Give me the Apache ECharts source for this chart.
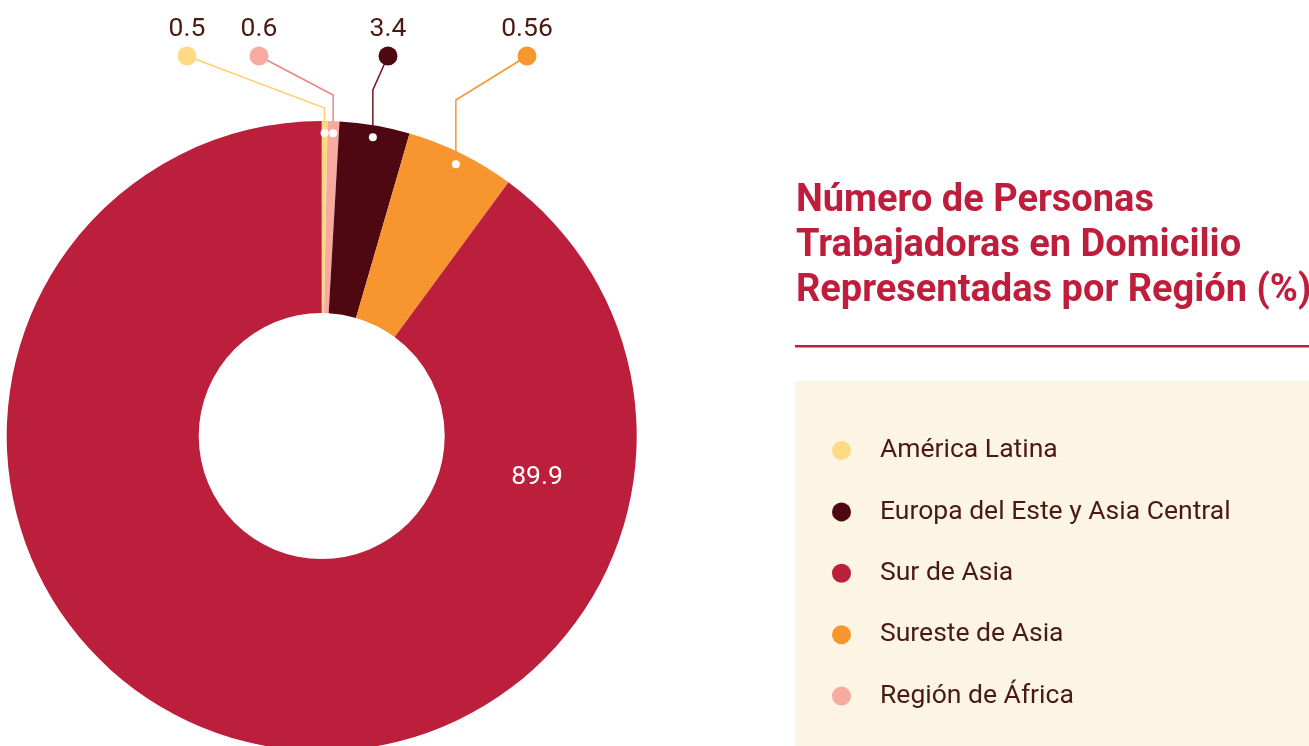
<!DOCTYPE html>
<html>
<head>
<meta charset="utf-8">
<script src="https://cdn.jsdelivr.net/npm/echarts@6/dist/echarts.min.js"></script>
<style>
html,body{margin:0;padding:0;background:#fff;}
#chart{width:1309px;height:746px;}
</style>
</head>
<body>
<div id="chart"></div>
<script>
// ---- data ----
const regiones = ['América Latina', 'Región de África', 'Europa del Este y Asia Central', 'Sureste de Asia', 'Sur de Asia'];
const valores = [0.3, 0.6, 3.6, 5.6, 89.9];
const etiquetas = ['0.5', '0.6', '3.4', '0.56', '89.9'];
const colores = ['#FFDA85', '#F6AAA0', '#4E0812', '#F7952F', '#BC1F3B'];
const coloresLinea = ['#FFD06E', '#EE8285', '#6E1620', '#F7952F', '#BC1F3B'];
const ordenLeyenda = ['América Latina', 'Europa del Este y Asia Central', 'Sur de Asia', 'Sureste de Asia', 'Región de África'];
const titulo = 'Número de Personas\nTrabajadoras en Domicilio\nRepresentadas por Región (%)';

// ---- layout ----
const CX = 321.7, CY = 436, R_OUT = 315, R_IN = 123, R_DOT = 303;
const anclaX = [187, 259, 388, 527];
const anclaY = 56;
const dobladoY = [108, 95, 90, 100];
const etiquetaInterior = [537, 477];

const total = valores.reduce((a, b) => a + b, 0);
const mitades = valores.map((v, i) => valores.slice(0, i).reduce((a, b) => a + b, 0) + v / 2);

function puntoInicio(i) {
  const ang = (mitades[i] / total) * 2 * Math.PI;
  return [CX + R_DOT * Math.sin(ang), CY - R_DOT * Math.cos(ang)];
}

const rich = { v: { fontSize: 26.5, color: '#4A1A12', lineHeight: 34, fontFamily: 'Roboto' } };
colores.forEach((c, i) => {
  rich['d' + i] = { width: 19, height: 19, borderRadius: 9.5, backgroundColor: c };
});

const datos = regiones.map((n, i) => {
  const d = { name: n, value: valores[i], itemStyle: { color: colores[i] } };
  if (i === 4) {
    d.label = { formatter: () => etiquetas[4], color: '#fff', fontSize: 26.5, fontFamily: 'Roboto' };
    d.labelLine = { show: false };
  } else {
    d.labelLine = { show: true, lineStyle: { color: coloresLinea[i], width: 1.5 } };
  }
  return d;
});

const chart = echarts.init(document.getElementById('chart'), null, { renderer: 'canvas' });
chart.setOption({
  animation: false,
  backgroundColor: '#ffffff',
  title: {
    text: titulo,
    left: 796,
    top: 179,
    padding: 0,
    textStyle: { fontFamily: 'Roboto', fontWeight: 'bold', fontSize: 38, lineHeight: 45, color: '#BE1E3C' }
  },
  graphic: [
    { type: 'rect', left: 795, top: 381, shape: { width: 514, height: 365 }, style: { fill: '#FDF5E3' }, z: -10 },
    { type: 'rect', left: 795, top: 345, shape: { width: 514, height: 2.5 }, style: { fill: '#BE1E3C' } }
  ],
  legend: {
    data: ordenLeyenda,
    orient: 'vertical',
    left: 827,
    top: 432,
    icon: 'circle',
    itemWidth: 19,
    itemHeight: 19,
    itemGap: 34.4,
    selectedMode: false,
    textStyle: { fontFamily: 'Roboto', fontSize: 26.5, color: '#4A1A12', lineHeight: 24, padding: [0, 0, 0, 24] }
  },
  polar: { center: [CX, CY], radius: R_OUT },
  angleAxis: { type: 'value', min: 0, max: total, startAngle: 90, clockwise: true, show: false },
  radiusAxis: { type: 'value', min: 0, max: R_OUT, show: false },
  series: [
    {
      type: 'pie',
      center: [CX, CY],
      radius: [R_IN, R_OUT],
      startAngle: 90,
      clockwise: true,
      avoidLabelOverlap: false,
      silent: true,
      label: {
        show: true,
        position: 'outside',
        formatter: p => '{v|' + etiquetas[p.dataIndex] + '}\n{d' + p.dataIndex + '|}',
        rich: rich,
        align: 'center'
      },
      labelLine: { show: true, length: 20, length2: 20 },
      labelLayout: function (params) {
        const i = params.dataIndex;
        if (i === 4) {
          return { x: etiquetaInterior[0], y: etiquetaInterior[1], align: 'center', verticalAlign: 'middle' };
        }
        const s = puntoInicio(i);
        return {
          x: anclaX[i],
          y: anclaY + 9.5,
          align: 'center',
          verticalAlign: 'bottom',
          labelLinePoints: [s, [s[0], dobladoY[i]], [anclaX[i], anclaY]]
        };
      },
      data: datos
    },
    {
      type: 'scatter',
      coordinateSystem: 'polar',
      symbolSize: 8,
      silent: true,
      z: 10,
      itemStyle: { color: '#ffffff', opacity: 1 },
      data: mitades.slice(0, 4).map(m => [R_DOT, m])
    }
  ]
});
</script>
</body>
</html>
